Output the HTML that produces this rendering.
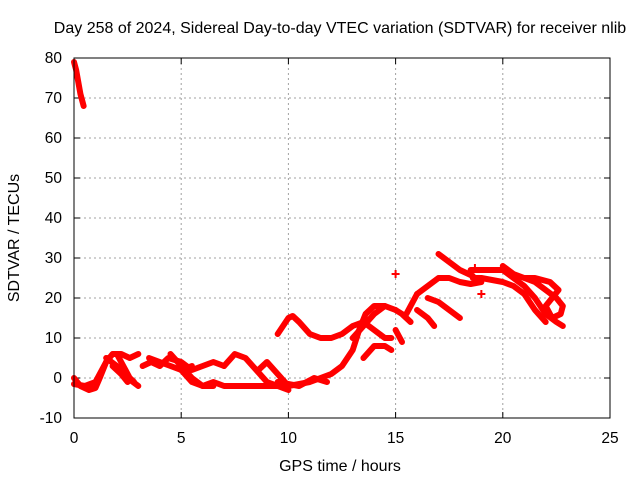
<!DOCTYPE html>
<html><head><meta charset="utf-8"><style>
body{margin:0;background:#fff}
svg{display:block;font-family:"Liberation Sans",sans-serif}
</style></head><body>
<svg id="chart" width="640" height="480" viewBox="0 0 640 480">
<text x="340" y="33" text-anchor="middle" font-size="16">Day 258 of 2024, Sidereal Day-to-day VTEC variation (SDTVAR) for receiver nlib</text>
<text x="340" y="471" text-anchor="middle" font-size="16">GPS time / hours</text>
<text transform="translate(19,238) rotate(-90)" text-anchor="middle" font-size="16">SDTVAR / TECUs</text>
<g id="grid"></g>
<g id="ticks"></g>
<g id="marks"></g>
<rect x="74" y="58" width="536" height="360" fill="none" stroke="#000" stroke-width="1"/>
</svg>
<script>
const xTicks=[0,5,10,15,20,25];
const yTicks=[-10,0,10,20,30,40,50,60,70,80];
const tracks=[
[[0,79],[0.1,77],[0.2,74],[0.3,71],[0.45,68]],
[[0,0],[0.3,-2],[0.7,-3],[1.0,-2.5],[1.2,0],[1.5,4],[1.8,6],[2.2,6],[2.6,5],[3.0,6]],
[[0,-1.5],[0.5,-2],[1.0,-1],[1.3,2],[1.6,5]],
[[1.5,5],[2.0,3],[2.5,0],[3.0,-2]],
[[2.0,6],[2.3,3],[2.6,0],[2.8,-1]],
[[1.8,3],[2.2,1],[2.5,-1]],
[[3.2,3],[3.6,4],[4.0,3],[4.4,5],[5.0,4],[5.5,2],[6,3],[6.5,4],[7,3]],
[[3.5,5],[4,4],[4.5,3],[5,2],[5.5,3]],
[[4.5,6],[5,3],[5.5,0],[6,-2],[6.5,-2]],
[[5,2],[5.5,-1],[6,-2],[6.5,-1],[7,-2],[8,-2],[9,-2],[10,-2],[11,-1],[12,1],[12.5,3],[13,7],[13.3,12],[13.6,16],[14,18],[14.5,18]],
[[7,3],[7.5,6],[8,5],[8.5,2],[9,-1],[9.5,-2],[10,-3]],
[[8.6,2],[9,4],[9.5,1],[10,-2]],
[[9.5,-1],[10.5,-2],[11.2,0],[11.8,-1]],
[[9.5,11],[10,15],[10.2,15.5],[10.5,14],[11,11],[11.5,10],[12,10],[12.5,11],[13,13],[13.5,14],[14,12],[14.5,10],[14.8,10]],
[[13,10],[13.5,13],[14,16],[14.5,18],[15,17]],
[[13.5,5],[14,8],[14.5,8],[14.8,7]],
[[15,17],[15.3,16],[15.7,14]],
[[15,12],[15.2,10],[15.3,9]],
[[15.5,16],[15.8,19],[16.0,21]],
[[16,17],[16.5,15],[16.8,13]],
[[16,21],[16.5,23],[17,25],[17.5,25],[18,24],[18.5,23.5],[19,24]],
[[16.5,20],[17,19],[17.5,17],[18,15]],
[[17,31],[17.5,29],[18,27],[18.6,25.5]],
[[18.5,27],[19,27],[19.5,27],[20,27],[20.5,25],[21,23],[21.5,20],[22,16],[22.5,14],[22.8,13]],
[[18.6,25],[19,25],[19.5,24.5],[20,24],[20.5,23],[21,21],[21.5,17],[22,14]],
[[20,28],[20.5,26],[21,25],[21.5,24],[22,22],[22.5,20],[22.8,18],[22.7,16],[22.3,15],[22,18],[22.3,20],[22.6,22],[22.2,24],[21.5,25],[21,25]]
];
const singles=[[15,26],[19,21],[18.7,27.5]];
const NS="http://www.w3.org/2000/svg";
const X=t=>74+t*536/25;
const Y=v=>418-(v+10)*4;
function mk(tag,attrs,parent){const e=document.createElementNS(NS,tag);for(const k in attrs)e.setAttribute(k,attrs[k]);parent.appendChild(e);return e;}
const grid=document.getElementById('grid'),ticks=document.getElementById('ticks'),marks=document.getElementById('marks');
xTicks.forEach(t=>{
 if(t>0&&t<25){const g=mk('line',{x1:X(t),x2:X(t),y1:58,y2:418,stroke:'#a0a0a0','stroke-dasharray':'2,3'},grid);
 
 }
 mk('line',{x1:X(t),x2:X(t),y1:418,y2:412,stroke:'#000'},ticks);mk('line',{x1:X(t),x2:X(t),y1:58,y2:64,stroke:'#000'},ticks);
 const l=mk('text',{x:X(t),y:443,'text-anchor':'middle','font-size':15.5},ticks);l.textContent=t;
 
 
});
yTicks.forEach(v=>{
 if(v>-10&&v<80){const g=mk('line',{x1:74,x2:610,y1:Y(v),y2:Y(v),stroke:'#a0a0a0','stroke-dasharray':'2,3'},grid);
 
 }
 mk('line',{x1:74,x2:80,y1:Y(v),y2:Y(v),stroke:'#000'},ticks);mk('line',{x1:610,x2:604,y1:Y(v),y2:Y(v),stroke:'#000'},ticks);
 const l=mk('text',{x:62,y:Y(v)+5,'text-anchor':'end','font-size':15.5},ticks);l.textContent=v;
 
 
});
tracks.forEach(tr=>{
 const p=mk('polyline',{points:tr.map(d=>X(d[0])+','+Y(d[1])).join(' '),fill:'none',stroke:'#ff0000','stroke-width':6,'stroke-linejoin':'round','stroke-linecap':'round'},marks);
 
 
});
singles.forEach(d=>{
 const p=mk('path',{d:`M${X(d[0])-4},${Y(d[1])}h8M${X(d[0])},${Y(d[1])-4}v8`,stroke:'#ff0000','stroke-width':2},marks);
 
 
});
</script>
</body></html>
